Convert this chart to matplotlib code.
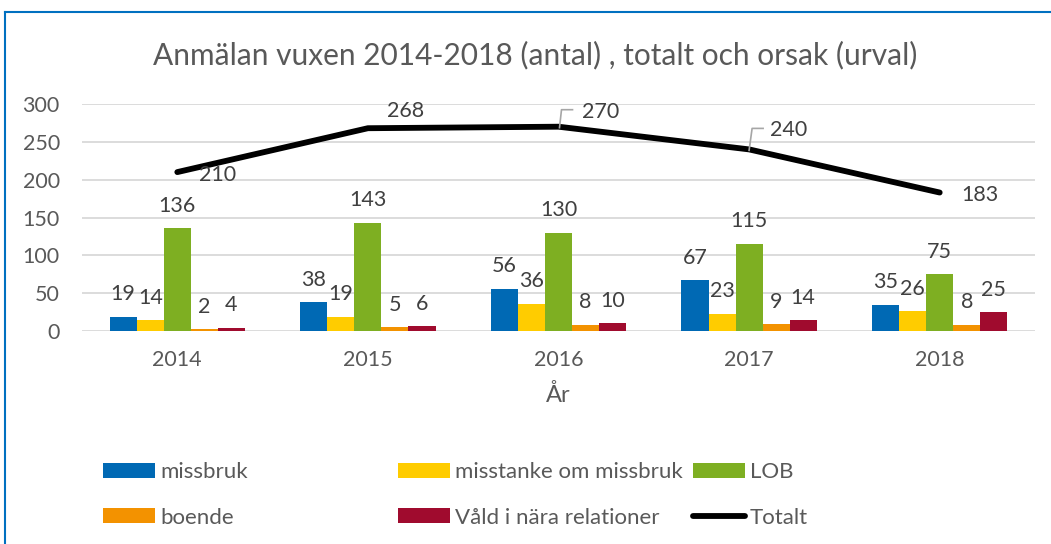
import numpy as np
import matplotlib
matplotlib.use('Agg')
import matplotlib.pyplot as plt
from matplotlib.transforms import IdentityTransform

plt.rcParams['font.family'] = ['Lato', 'DejaVu Sans']

# ------------------- 数据 -------------------
years = ['2014', '2015', '2016', '2017', '2018']
missbruk = [19, 38, 56, 67, 35]
misstanke = [14, 19, 36, 23, 26]
lob = [136, 143, 130, 115, 75]
boende = [2, 5, 8, 9, 8]
vald = [4, 6, 10, 14, 25]
totalt = [210, 268, 270, 240, 183]

series = [
    ('missbruk', missbruk, '#0069B4'),
    ('misstanke om missbruk', misstanke, '#FFCC00'),
    ('LOB', lob, '#7EAF22'),
    ('boende', boende, '#F39200'),
    ('Våld i nära relationer', vald, '#A00B2E'),
]

# 折线标签的像素偏移
tot_offsets = [(40, -3), (38, 17), (42, 15), (40, 19), (40, -2)]
# 引导线 (只在 2016, 2017)
leaders = {2: [(1, -1), (3, 17), (14, 17)], 3: [(0, -1), (3, 21), (14, 21)]}

txt = '#595959'
lbl = '#404040'

fig = plt.figure(figsize=(10.51, 5.44), dpi=100)
W, H = 1051, 544
ax = fig.add_axes([82 / W, (H - 331) / H, (1035 - 82) / W, (331 - 104) / H])

x = np.arange(len(years))
w = 0.142
handles = []
for k, (name, vals, col) in enumerate(series):
    bc = ax.bar(x + (k - 2) * w, vals, width=w, color=col, label=name, zorder=2)
    ax.bar_label(bc, padding=9, fontsize=15.5, color=lbl)
    handles.append(bc)

ln, = ax.plot(x, totalt, color='black', lw=4.2, solid_capstyle='round',
              solid_joinstyle='round', label='Totalt', zorder=3)
for i, v in enumerate(totalt):
    ax.annotate(str(v), (i, v), xytext=tot_offsets[i], textcoords='offset pixels',
                ha='center', va='center', fontsize=15.5, color=lbl)

ax.set_xlim(-0.5, 4.5)
ax.set_ylim(0, 300)
ax.set_yticks([0, 50, 100, 150, 200, 250, 300])
ax.set_xticks(x)
ax.set_xticklabels(years)
ax.grid(axis='y', color='#D9D9D9', lw=1.3, zorder=0)
ax.set_axisbelow(True)
for s in ax.spines.values():
    s.set_visible(False)
ax.tick_params(axis='both', length=0, labelsize=15.5, colors=txt)
ax.tick_params(axis='y', pad=16)
ax.tick_params(axis='x', pad=14)
ax.set_xlabel('År', fontsize=17, color=txt, labelpad=10)

# 引导线
fig.canvas.draw()
for i, offs in leaders.items():
    base = ax.transData.transform((i, totalt[i]))
    pts = base + np.array(offs)
    ax.plot(pts[:, 0], pts[:, 1], color='#A6A6A6', lw=1.2,
            transform=IdentityTransform(), clip_on=False, zorder=4)

fig.text(535 / W, 1 - 55 / H, 'Anmälan vuxen 2014-2018 (antal) , totalt och orsak (urval)',
         ha='center', va='center', fontsize=21.5, color=txt)

# 图例: 三列, 每列固定宽度
cols = [[handles[0], handles[3]], [handles[1], handles[4]], [handles[2], ln]]
xs = [103, 398, 693]
for hs, x0 in zip(cols, xs):
    leg = fig.legend(hs, [h.get_label() for h in hs], loc='upper left',
                     bbox_to_anchor=(x0 / W, 1 - 462 / H), frameon=False,
                     fontsize=16, handlelength=2.35, handletextpad=0.22,
                     handleheight=0.65, labelspacing=1.15, borderpad=0, borderaxespad=0)
    for t in leg.get_texts():
        t.set_color(txt)

# 外框
fig.add_artist(plt.Line2D([5 / W, 5 / W], [0, 1 - 12 / H], color='#0070C0', lw=1.5,
                          transform=fig.transFigure))
fig.add_artist(plt.Line2D([5 / W, 1], [1 - 12 / H, 1 - 12 / H], color='#0070C0', lw=1.5,
                          transform=fig.transFigure))

fig.savefig('out.png', dpi=100)
